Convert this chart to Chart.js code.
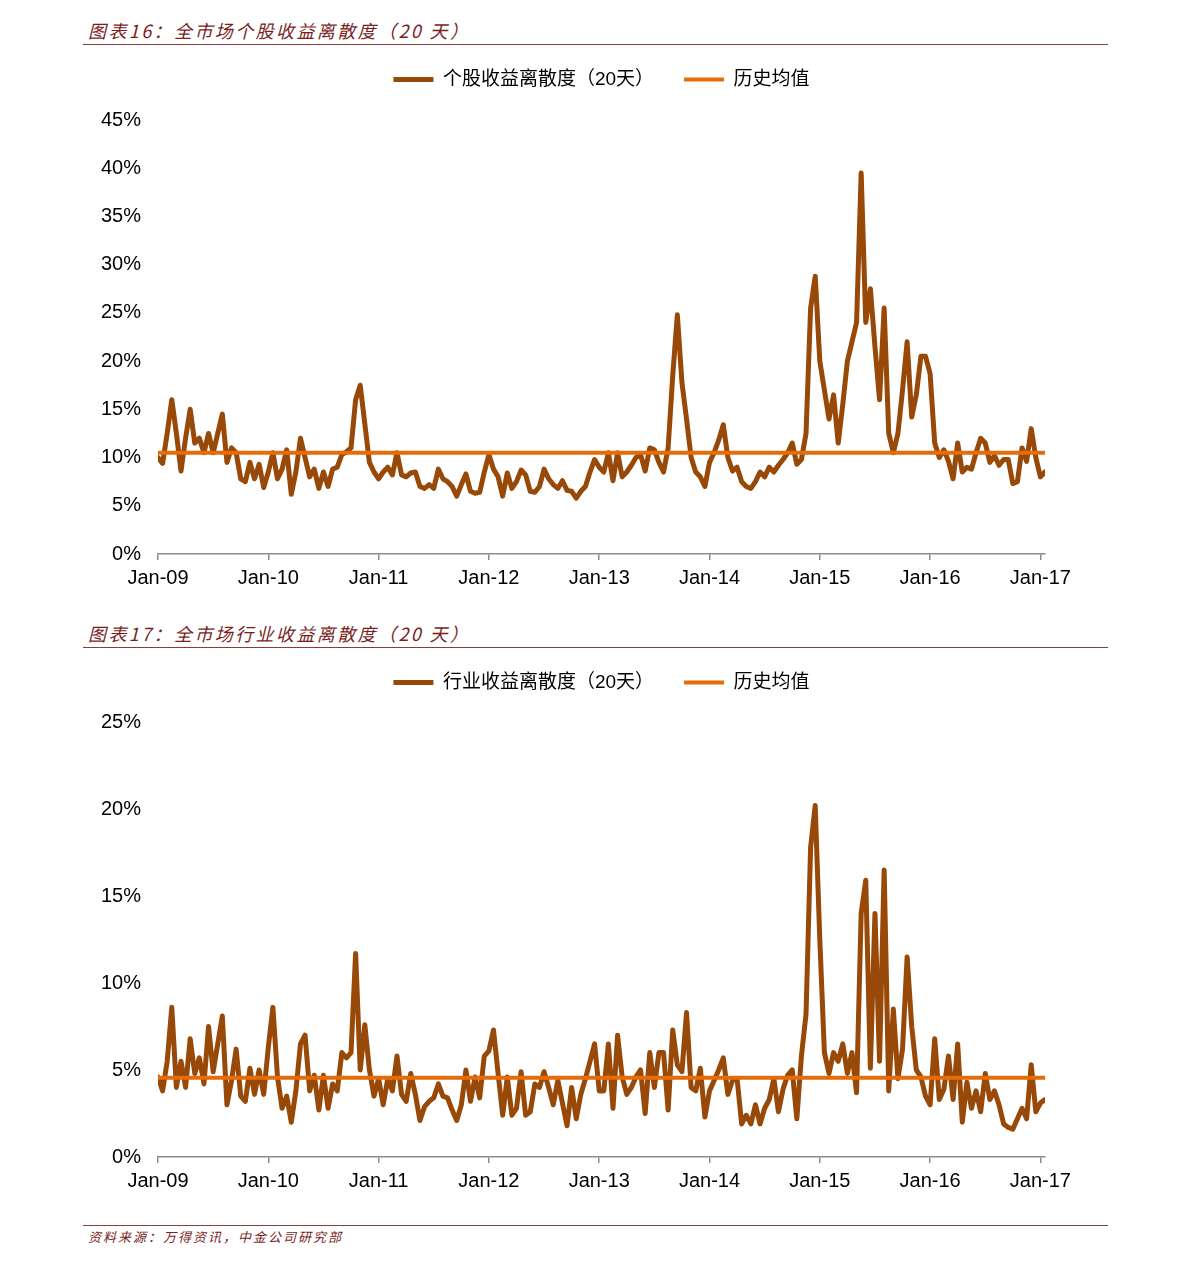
<!DOCTYPE html>
<html>
<head>
<meta charset="utf-8">
<script src="https://cdn.jsdelivr.net/npm/chart.js@4.4.1/dist/chart.umd.min.js"></script>
<style>
    body { margin: 0; background: #fff; width: 1191px; height: 1265px; position: relative; overflow: hidden; }
    .title { position: absolute; left: 88px; font-family: "Noto Sans CJK SC", sans-serif; font-style: italic; font-size: 18px; letter-spacing: 2.4px; color: #7a1e1e; line-height: 20px; }
    .rule { position: absolute; left: 83px; width: 1025px; height: 0; border-top: 1.5px solid #8a3b3b; }
    .source { position: absolute; left: 88px; font-family: "Noto Sans CJK SC", sans-serif; font-style: italic; font-size: 13px; letter-spacing: 2px; color: #7a1e1e; line-height: 16px; }
    .chartBox { position: absolute; left: 0; width: 1191px; }
</style>
</head>
<body>
<div class="title" style="top: 20px;">图表16：全市场个股收益离散度（20 天）</div>
<div class="rule" style="top: 44px;"></div>
<div class="chartBox" style="top: 40px;"><canvas id="stockChart" width="1191" height="556"></canvas></div>

<div class="title" style="top: 623px;">图表17：全市场行业收益离散度（20 天）</div>
<div class="rule" style="top: 647px;"></div>
<div class="chartBox" style="top: 643px;"><canvas id="industryChart" width="1191" height="556"></canvas></div>

<div class="rule" style="top: 1225px;"></div>
<div class="source" style="top: 1229px;">资料来源：万得资讯，中金公司研究部</div>

<script>
// Series sampled twice a month, starting Jan-09
const startYear = 2009;
const pointsPerYear = 24;
const xTickLabels = ['Jan-09', 'Jan-10', 'Jan-11', 'Jan-12', 'Jan-13', 'Jan-14', 'Jan-15', 'Jan-16', 'Jan-17'];

// 个股收益离散度（20天）, %
const stockDispersion = [
    10.0, 9.4, 12.5, 16.0, 12.5, 8.6, 12.0, 15.0, 11.5, 12.0,
    10.5, 12.5, 10.5, 12.5, 14.5, 9.5, 11.0, 10.5, 7.8, 7.5,
    9.5, 7.8, 9.3, 6.9, 8.5, 10.5, 7.8, 8.8, 10.8, 6.2,
    8.5, 12.0, 10.0, 8.0, 8.8, 6.8, 8.5, 7.0, 8.8, 9.0,
    10.3, 10.6, 11.0, 16.0, 17.5, 13.5, 9.5, 8.5, 7.8, 8.5,
    9.0, 8.2, 10.5, 8.2, 8.0, 8.4, 8.5, 7.0, 6.8, 7.2,
    6.8, 8.8, 7.8, 7.5, 7.0, 6.0, 7.2, 8.3, 6.5, 6.3,
    6.4, 8.5, 10.3, 8.8, 8.0, 6.0, 8.4, 6.8, 7.5, 8.7,
    8.2, 6.5, 6.4, 7.0, 8.8, 7.8, 7.2, 6.8, 7.6, 6.6,
    6.5, 5.8, 6.5, 7.0, 8.5, 9.8, 9.0, 8.5, 10.5, 7.6,
    10.5, 8.0, 8.5, 9.2, 10.0, 10.3, 8.6, 11.0, 10.8, 9.5,
    8.5, 11.0, 18.5, 24.8, 17.8, 14.0, 10.0, 8.5, 8.0, 7.0,
    9.5, 10.5, 11.8, 13.4, 10.0, 8.6, 9.0, 7.5, 7.0, 6.8,
    7.5, 8.5, 8.0, 9.0, 8.5, 9.2, 9.8, 10.5, 11.5, 9.3,
    9.8, 12.5, 25.5, 28.8, 20.0, 17.0, 14.0, 16.5, 11.5, 15.5,
    20.0, 22.0, 24.0, 39.5, 24.0, 27.5, 21.5, 16.0, 25.5, 12.5,
    10.5, 12.5, 17.0, 22.0, 14.2, 16.5, 20.5, 20.5, 18.7, 11.5,
    10.0, 10.8, 9.6, 7.8, 11.5, 8.5, 9.0, 8.8, 10.5, 12.0,
    11.5, 9.5, 10.2, 9.2, 9.8, 9.8, 7.3, 7.5, 11.0, 9.6,
    13.0, 10.0, 8.0, 8.5
];
const stockMean = 10.5;

// 行业收益离散度（20天）, %
const industryDispersion = [
    4.6, 3.8, 5.5, 8.6, 4.0, 5.5, 4.0, 6.8, 4.8, 5.7,
    4.2, 7.5, 4.9, 6.5, 8.1, 3.0, 4.4, 6.2, 3.5, 3.2,
    5.1, 3.6, 5.0, 3.6, 6.3, 8.6, 4.6, 2.8, 3.5, 2.0,
    3.8, 6.5, 7.0, 3.8, 4.7, 2.7, 4.7, 2.8, 4.2, 3.8,
    6.0, 5.7, 6.0, 11.7, 5.0, 7.6, 5.0, 3.5, 4.5, 3.0,
    4.5, 3.8, 5.8, 3.6, 3.2, 4.8, 3.6, 2.1, 2.9, 3.2,
    3.4, 4.2, 3.5, 3.4, 2.7, 2.1, 3.0, 5.0, 3.2, 4.6,
    3.4, 5.8, 6.1, 7.3, 4.8, 2.4, 4.6, 2.4, 2.8, 4.9,
    2.4, 2.6, 4.2, 4.0, 4.9, 4.0, 3.0, 4.4, 3.1, 1.8,
    4.0, 2.2, 3.6, 4.5, 5.5, 6.5, 3.8, 3.8, 6.5, 2.8,
    7.0, 4.6, 3.6, 4.0, 4.6, 5.0, 2.5, 6.0, 4.0, 6.0,
    6.0, 2.7, 7.3, 5.3, 4.9, 8.3, 4.0, 3.8, 5.1, 2.3,
    3.8, 4.4, 5.0, 5.7, 3.6, 4.4, 4.5, 1.9, 2.4, 1.9,
    3.0, 1.9, 2.8, 3.3, 4.5, 2.6, 3.9, 4.7, 5.0, 2.2,
    5.8, 8.2, 17.8, 20.2, 12.5, 6.0, 4.8, 6.0, 5.5, 6.5,
    4.8, 6.0, 3.7, 14.0, 15.9, 5.1, 14.0, 5.5, 16.5, 3.8,
    8.5, 4.5, 6.2, 11.5, 7.5, 5.0, 4.6, 3.5, 3.0, 6.8,
    3.3, 3.9, 5.8, 3.3, 6.5, 2.0, 4.3, 2.8, 3.8, 2.6,
    4.8, 3.3, 3.8, 3.0, 1.9, 1.7, 1.6, 2.2, 2.8, 2.2,
    5.3, 2.6, 3.1, 3.3
];
const industryMean = 4.55;

const seriesColor = '#984807';
const meanColor = '#e46c0a';
const tickFont = { family: '"Liberation Sans", Arial, sans-serif', size: 20 };
const legendFont = { family: '"Liberation Sans", "Noto Sans CJK SC", sans-serif', size: 19 };

function toPoints(values) {
    return values.map((v, i) => ({ x: startYear + i / pointsPerYear, y: v }));
}

// Adds room under the legend and centres it over the plot area
function legendPlugin(extraGap) {
    return {
        id: 'legendGap',
        beforeInit(chart) {
            const originalFit = chart.legend.fit;
            chart.legend.fit = function fit() {
                originalFit.bind(chart.legend)();
                this.height += extraGap;
            };
        },
        afterLayout(chart) {
            const legend = chart.legend;
            const area = chart.chartArea;
            const shift = (area.left + area.right) / 2 - (legend.left + legend.right) / 2;
            legend.left += shift;
            legend.right += shift;
        }
    };
}

function buildChart(canvasId, seriesLabel, values, mean, yMax, extraGap) {
    const lastX = startYear + (values.length - 1) / pointsPerYear;
    const ctx = document.getElementById(canvasId).getContext('2d');
    return new Chart(ctx, {
        type: 'line',
        data: {
            datasets: [{
                label: seriesLabel,
                data: toPoints(values),
                borderColor: seriesColor,
                backgroundColor: seriesColor,
                borderWidth: 5,
                borderJoinStyle: 'round',
                borderCapStyle: 'round',
                pointRadius: 0,
                tension: 0,
                order: 1
            }, {
                label: '历史均值',
                data: [{ x: startYear, y: mean }, { x: lastX, y: mean }],
                borderColor: meanColor,
                backgroundColor: meanColor,
                borderWidth: 4,
                borderCapStyle: 'round',
                pointRadius: 0,
                order: 0
            }]
        },
        options: {
            responsive: false,
            animation: false,
            layout: { padding: { left: 0, right: 146, top: 0, bottom: 0 } },
            plugins: {
                tooltip: { enabled: false },
                legend: {
                    display: true,
                    position: 'top',
                    labels: {
                        usePointStyle: true,
                        pointStyle: 'line',
                        pointStyleWidth: 40,
                        boxHeight: 10,
                        padding: 30,
                        color: '#000',
                        font: legendFont,
                        sort: (a, b) => a.datasetIndex - b.datasetIndex
                    }
                }
            },
            scales: {
                x: {
                    type: 'linear',
                    min: startYear,
                    max: lastX,
                    afterBuildTicks: (scale) => {
                        scale.ticks = xTickLabels.map((_, i) => ({ value: startYear + i }));
                    },
                    ticks: {
                        autoSkip: false,
                        maxRotation: 0,
                        padding: 6,
                        color: '#000',
                        font: tickFont,
                        callback: (v) => xTickLabels[Math.round(v) - startYear]
                    },
                    grid: {
                        display: true,
                        drawOnChartArea: false,
                        drawTicks: true,
                        tickLength: 6,
                        color: '#8c8c8c',
                        lineWidth: 1.5
                    },
                    border: { display: true, color: '#8c8c8c', width: 1.5 }
                },
                y: {
                    min: 0,
                    max: yMax,
                    afterFit: (scale) => { scale.width = 158; },
                    ticks: {
                        stepSize: 5,
                        padding: 17,
                        color: '#000',
                        font: tickFont,
                        callback: (v) => v + '%'
                    },
                    grid: { display: false, drawTicks: false },
                    border: { display: false }
                }
            }
        },
        plugins: [legendPlugin(extraGap)]
    });
}

buildChart('stockChart', '个股收益离散度（20天）', stockDispersion, stockMean, 45, 21);
buildChart('industryChart', '行业收益离散度（20天）', industryDispersion, industryMean, 25, 20);
</script>
</body>
</html>
